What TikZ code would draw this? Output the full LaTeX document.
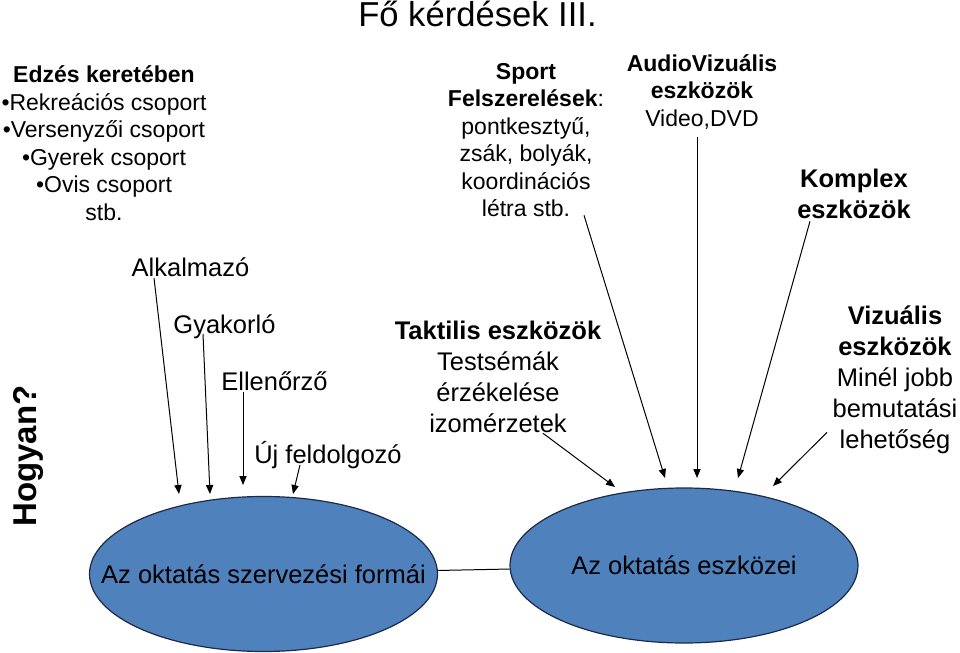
\documentclass[tikz,border=0pt]{standalone}
\usepackage{fontspec}
\setmainfont{Liberation Sans}
\usetikzlibrary{
  arrows.meta,
  positioning,
  shapes.geometric,
}
\definecolor{ovalfill}{HTML}{4F81BD}
\definecolor{ovaledge}{HTML}{1C2B45}
\definecolor{ink}{HTML}{000000}
\tikzset{
  fk/.style={
    x=0.5pt, y=-0.5pt,
    line join=round,
  },
  bigtxt/.style={
    font=\fontsize{12.75}{15.5}\selectfont,
    text=ink,
    align=center,
    inner sep=1pt,
  },
  bigbold/.style={bigtxt, font=\fontsize{12.75}{15.5}\selectfont\bfseries},
  smalltxt/.style={
    font=\fontsize{11.5}{13.75}\selectfont,
    text=ink,
    align=center,
    inner sep=1pt,
  },
  oval/.style={
    ellipse,
    draw=ovaledge,
    fill=ovalfill,
    line width=0.6pt,
    minimum width=174pt,
    minimum height=77.5pt,
    inner sep=0pt,
    font=\fontsize{12.75}{15.5}\selectfont,
    text=ink,
  },
  pointer/.style={
    -{Triangle[length=4.5pt, width=3.6pt]},
    line width=0.5pt,
    draw=ink,
  },
}

\begin{document}
\begin{tikzpicture}[fk]
  \useasboundingbox (0,0) rectangle (960,653);

  \node[font=\fontsize{17.3}{20}\selectfont, anchor=base] (title) at (477.5,26)
    {Fő kérdések III.};
  \node[font=\fontsize{16.5}{18}\selectfont\bfseries, rotate=90] (hogyan) at (28,456)
    {Hogyan?};

  % upper text blocks
  \node[smalltxt] (edzes) at (104,143)
    {\textbf{Edzés keretében}\\•Rekreációs csoport\\•Versenyzői csoport\\
     •Gyerek csoport\\•Ovis csoport\\stb.};
  \node[smalltxt] (sport) at (526,140)
    {\textbf{Sport}\\\textbf{Felszerelések}:\\pontkesztyű,\\zsák, bolyák,\\
     koordinációs\\létra stb.};
  \node[smalltxt] (av) at (702,92)
    {\textbf{AudioVizuális}\\\textbf{eszközök}\\Video,DVD};
  \node[bigbold] (komp) at (854,194) {Komplex\\eszközök};

  % forms
  \node[bigtxt, anchor=base] (alk) at (190.5,276) {Alkalmazó};
  \node[bigtxt, anchor=base] (gyak) at (224.5,333) {Gyakorló};
  \node[bigtxt, anchor=base] (ell) at (274.5,390) {Ellenőrző};
  \node[bigtxt, anchor=base] (uj) at (328,463) {Új feldolgozó};

  \node[bigtxt] (takt) at (498,377)
    {\textbf{Taktilis eszközök}\\Testsémák\\érzékelése\\izomérzetek};
  \node[bigtxt] (viz) at (895,380)
    {\textbf{Vizuális}\\\textbf{eszközök}\\Minél jobb\\bemutatási\\lehetőség};

  \node[oval] (formai) at (263.5,574) {\makebox[0pt]{Az oktatás szervezési formái}};
  \node[oval] (eszkozei) at (684,565.5) {\makebox[0pt]{Az oktatás eszközei}};
  \draw[line width=0.5pt, draw=ink] (formai) -- (eszkozei);

  % arrow tips, just above the ovals
  \coordinate (tAlk) at (179,494);
  \coordinate (tGyak) at (210,494);
  \coordinate (tEll) at (243,485);
  \coordinate (tUj) at (293,494);
  \coordinate (tTakt) at (615,487);
  \coordinate (tSport) at (665,478);
  \coordinate (tAv) at (697,478);
  \coordinate (tKomp) at (738,478);
  \coordinate (tViz) at (773,486);

  \draw[pointer] ([xshift=-18.25pt,yshift=-1pt]alk.base) -- (tAlk);
  \draw[pointer] ([xshift=-10.75pt,yshift=-0.5pt]gyak.base) -- (tGyak);
  \draw[pointer] ([xshift=-15.75pt,yshift=-1pt]ell.base) -- (tEll);
  \draw[pointer] ([xshift=-14pt,yshift=-1pt]uj.base) -- (tUj);
  \draw[pointer] ([xshift=22.5pt,yshift=1pt]takt.south) -- (tTakt);
  \draw[pointer] ([xshift=29pt,yshift=2pt]sport.south) -- (tSport);
  \draw[pointer] ([xshift=-2.5pt,yshift=-2.5pt]av.south) -- (tAv);
  \draw[pointer] ([xshift=-22pt]komp.south) -- (tKomp);
  \draw[pointer] ([xshift=-34pt,yshift=12pt]viz.south) -- (tViz);
\end{tikzpicture}
\end{document}
